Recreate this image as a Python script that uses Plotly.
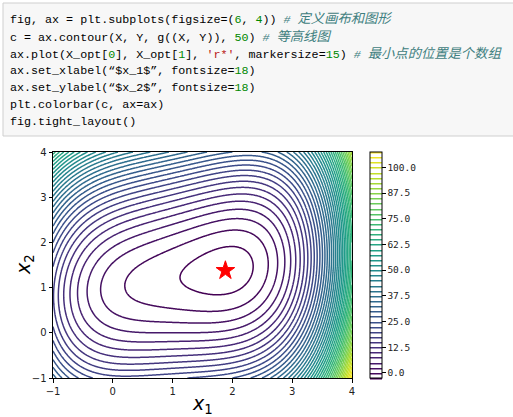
import numpy as np
import plotly.graph_objects as go

# ---- data -------------------------------------------------------------
x_lim = [-1.0, 4.0]
y_lim = [-1.0, 4.0]
n_grid = 300
X_opt = [1.88292613, 1.37658523]          # location of the minimum
level_start, level_end, level_step = -2.5, 107.5, 2.5
cbar_ticks = [0.0, 12.5, 25.0, 37.5, 50.0, 62.5, 75.0, 87.5, 100.0]
x_ticks = [-1, 0, 1, 2, 3, 4]
y_ticks = [-1, 0, 1, 2, 3, 4]


def g(X):
    x, y = X
    return (x - 1) ** 4 + 5 * (y - 1) ** 2 - 2 * x * y


x_ = np.linspace(x_lim[0], x_lim[1], n_grid)
y_ = np.linspace(y_lim[0], y_lim[1], n_grid)
X, Y = np.meshgrid(x_, y_)
Z = g((X, Y))

# ---- page geometry (pixels) ------------------------------------------
W, H = 513, 417
L, R, T, B = 53, 161, 152, 39
PW, PH = W - L - R, H - T - B


def px(xp):
    return (xp - L) / PW


def py(yp):
    return (H - B - yp) / PH


fig = go.Figure()

fig.add_trace(go.Contour(
    x=x_, y=y_, z=Z,
    contours=dict(start=level_start, end=level_end, size=level_step,
                  coloring="lines", showlabels=False),
    line=dict(width=1.5, smoothing=0.6),
    colorscale="Viridis",
    zmin=level_start, zmax=level_end,
    colorbar=dict(
        x=px(370), xanchor="left", xpad=0, ypad=0,
        y=0.5, yanchor="middle", len=1.0, lenmode="fraction",
        thickness=12, thicknessmode="pixels",
        outlinewidth=1, outlinecolor="black",
        tickmode="array", tickvals=cbar_ticks,
        ticktext=[f"{v:.1f}" for v in cbar_ticks],
        ticks="outside", ticklen=3.5, tickcolor="black",
        tickfont=dict(family="DejaVu Sans Mono", size=9.5, color="#222"),
    ),
    hoverinfo="skip",
))

fig.add_trace(go.Scatter(
    x=[X_opt[0]], y=[X_opt[1]], mode="markers",
    marker=dict(symbol="star", size=14, color="red",
                line=dict(color="red", width=1)),
    showlegend=False, hoverinfo="skip",
))

axis_common = dict(
    showgrid=False, zeroline=False, showline=True, linecolor="black",
    linewidth=1, mirror=True, ticks="outside", ticklen=3.5,
    tickcolor="black", tickfont=dict(family="DejaVu Sans", size=10, color="#222"),
)
fig.update_xaxes(range=x_lim, tickvals=x_ticks,
                 ticktext=[str(v).replace("-", "\u2212") for v in x_ticks],
                 **axis_common)
fig.update_yaxes(range=y_lim, tickvals=y_ticks,
                 ticktext=[str(v).replace("-", "\u2212") for v in y_ticks],
                 **axis_common)

# ---- notebook code cell above the chart ------------------------------
fig.add_shape(type="rect", xref="paper", yref="paper",
              x0=px(3), x1=px(530), y0=py(136), y1=py(3),
              fillcolor="#f7f7f7", line=dict(color="#cfcfcf", width=1),
              layer="below")

NUM = "#008800"
STR = "#BA2121"
COM = "#408080"


def n(s):
    return f'<span style="color:{NUM}">{s}</span>'


def c(s):
    hash_, text = s.split(" ", 1)
    return (f'<span style="color:{COM}"><i>{hash_} '
            f'<span style="font-size:13.3px">{text}</span></i></span>')


code_lines = [
    f"fig, ax = plt.subplots(figsize=({n('6')}, {n('4')})) {c('# 定义画布和图形')}",
    f"c = ax.contour(X, Y, g((X, Y)), {n('50')}) {c('# 等高线图')}",
    f"ax.plot(X_opt[{n('0')}], X_opt[{n('1')}], "
    f"<span style=\"color:{STR}\">'r*'</span>, markersize={n('15')}) "
    f"{c('# 最小点的位置是个数组')}",
    f"ax.set_xlabel(“$x_1$”, fontsize={n('18')})",
    f"ax.set_ylabel(“$x_2$”, fontsize={n('18')})",
    "plt.colorbar(c, ax=ax)",
    "fig.tight_layout()",
]

for i, line in enumerate(code_lines):
    fig.add_annotation(
        xref="paper", yref="paper", x=px(8), y=py(19.5 + 17.05 * i),
        xanchor="left", yanchor="middle", showarrow=False, text=line,
        font=dict(family="Liberation Mono, Noto Sans CJK SC", size=11.7,
                  color="#000"),
    )

# ---- axis labels -----------------------------------------------------
fig.add_annotation(
    xref="paper", yref="paper", x=0.5, y=py(404), xanchor="center",
    yanchor="middle", showarrow=False, text="<i>x</i><sub>1</sub>",
    font=dict(family="DejaVu Sans", size=19, color="black"),
)
fig.add_annotation(
    xref="paper", yref="paper", x=px(24), y=0.5, xanchor="center",
    yanchor="middle", showarrow=False, text="<i>x</i><sub>2</sub>",
    textangle=-90, font=dict(family="DejaVu Sans", size=19, color="black"),
)

fig.update_layout(
    width=W, height=H, margin=dict(l=L, r=R, t=T, b=B),
    paper_bgcolor="white", plot_bgcolor="white", showlegend=False,
)

fig.write_html("out.html")
